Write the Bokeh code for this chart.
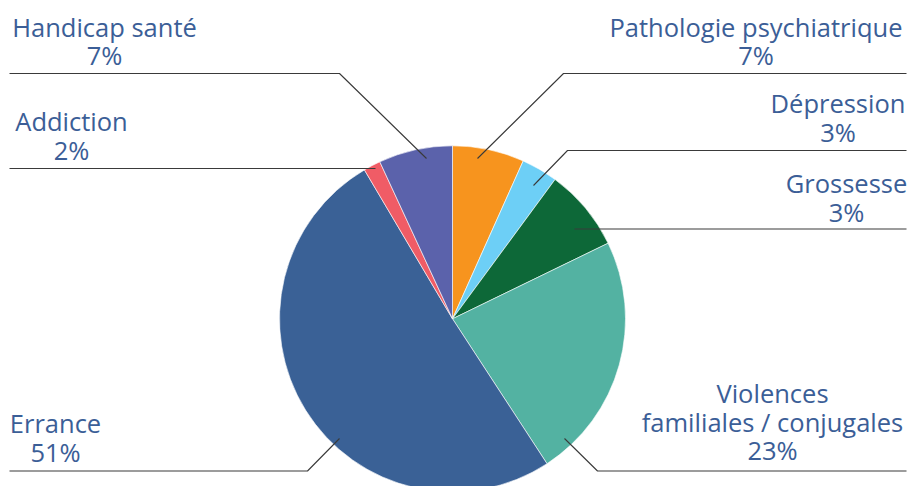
import numpy as np
from bokeh.plotting import figure
from bokeh.models import ColumnDataSource, Range1d
from bokeh.core.properties import value
from bokeh.embed import file_html
from bokeh.resources import INLINE

# ---- data (clockwise from 12 o'clock) ----
categories = ["Pathologie psychiatrique", "Dépression", "Grossesse",
              "Violences\nfamiliales / conjugales", "Errance", "Addiction",
              "Handicap santé"]
shares = [6.7, 3.4, 7.7, 23.0, 50.7, 1.6, 6.9]          # slice sizes as drawn
pct_labels = ["7%", "3%", "3%", "23%", "51%", "2%", "7%"]  # printed labels
colors = ["#F7941E", "#6DCFF6", "#0D6838", "#53B2A2", "#3A6196", "#F05C66", "#5B62AB"]

# ---- layout (reference pixel coordinates) ----
W, H, OFF = 908, 486, 0
def px(x): return x - OFF
def py(y): return (OFF + H) - y

CX, CY, R = 452, 318.3, 173
BASE_FIX = -10.5   # renderer baseline correction
label_anchor = [(755.5, 36.5), (837.5, 113.3), (846, 193.3), (772, 403.3),
                (55, 433.3), (71, 131), (104, 36.5)]
LINE_SP = 28.5
leaders = [
    [(906, 73), (563, 73), (477, 158)],
    [(906, 150), (567, 150), (533, 185)],
    [(906, 228.5), (574, 228.5)],
    [(906, 470.5), (597, 470.5), (564, 438)],
    [(9, 470.5), (307, 470.5), (339, 438)],
    [(9, 168), (375, 168)],
    [(9, 73), (339, 73), (426, 158)],
]
TEXT_COLOR = "#3B5E97"
FONT = "Open Sans"
FSIZE = "25.5px"

p = figure(width=W, height=H, x_range=Range1d(0, W), y_range=Range1d(0, H),
           output_backend="svg", toolbar_location=None, min_border=0)
p.axis.visible = False
p.grid.visible = False
p.outline_line_color = None
p.background_fill_color = "white"
p.border_fill_color = "white"

vals = np.array(shares, dtype=float)
frac = vals / vals.sum()
c1 = np.cumsum(frac)
c0 = c1 - frac
src = ColumnDataSource(dict(
    start=np.pi / 2 - 2 * np.pi * c1,
    end=np.pi / 2 - 2 * np.pi * c0,
    color=colors, cat=categories, pct=pct_labels))
p.wedge(x=px(CX), y=py(CY), radius=R, start_angle="start", end_angle="end",
        fill_color="color", line_color="white", line_width=0.6, source=src)

# leader lines
xs = [[px(a) for a, b in pts] for pts in leaders]
ys = [[py(b) for a, b in pts] for pts in leaders]
p.multi_line(xs=xs, ys=ys, line_color="#3a3a3a", line_width=1.1)

# labels
tx, ty, tt = [], [], []
for cat, pct, (ax, ay) in zip(categories, pct_labels, label_anchor):
    lines = cat.split("\n") + [pct]
    for i, ln in enumerate(lines):
        tx.append(px(ax))
        ty.append(py(ay + BASE_FIX + i * LINE_SP))
        tt.append(ln)
p.text(x=tx, y=ty, text=tt, text_align="center", text_baseline="alphabetic",
       text_font=value(FONT), text_font_size=FSIZE, text_color=TEXT_COLOR)

open("out.html", "w").write(file_html(p, INLINE))
